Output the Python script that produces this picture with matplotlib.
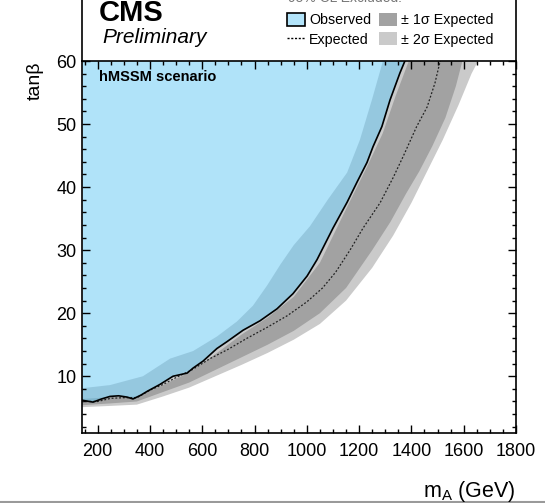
import numpy as np
import matplotlib
matplotlib.use('Agg')
import matplotlib.pyplot as plt
from matplotlib.patches import Patch
from matplotlib.lines import Line2D
from matplotlib.ticker import MultipleLocator

plt.rcParams['font.family'] = ['Liberation Sans', 'DejaVu Sans']
plt.rcParams['mathtext.fontset'] = 'custom'
plt.rcParams['mathtext.rm'] = 'Liberation Sans'
plt.rcParams['mathtext.it'] = 'Liberation Sans:italic'
plt.rcParams['mathtext.bf'] = 'Liberation Sans:bold'

# observed exclusion contour (mA [GeV], tan beta)
obs_mA = [140, 182, 215, 247, 280, 312, 335, 365, 389, 438, 488, 542, 565, 603,
          656, 695, 756, 821, 886, 947, 1001, 1039, 1100, 1154, 1192, 1230, 1253,
          1287, 1318, 1356, 1375, 1385]
obs_tb = [6.2, 5.9, 6.4, 6.8, 6.9, 6.7, 6.4, 7.0, 7.6, 8.7, 10.0, 10.5, 11.3, 12.4,
          14.4, 15.5, 17.3, 18.8, 20.7, 23.1, 25.9, 28.5, 33.5, 37.6, 40.8, 43.9, 46.4,
          49.6, 53.8, 58.1, 60.0, 61.0]

# median expected
exp_mA = [140, 200, 250, 300, 350, 400, 450, 500, 560, 630, 700, 770, 850, 925,
          1000, 1060, 1110, 1165, 1215, 1280, 1330, 1370, 1420, 1460, 1490, 1510, 1520]
exp_tb = [6.0, 6.0, 6.5, 6.6, 6.6, 7.8, 8.7, 9.8, 11.0, 12.8, 14.3, 16.0, 17.8, 19.6,
          21.8, 24.0, 26.5, 30.0, 33.5, 37.5, 41.5, 45.0, 49.6, 52.7, 56.5, 60.0, 61.0]

# +-1 sigma expected band edges
s1_hi_mA = [140, 250, 350, 450, 550, 650, 750, 850, 950, 1050, 1150, 1230, 1290, 1340, 1390, 1400]
s1_hi_tb = [6.4, 6.7, 6.8, 8.6, 10.6, 13.5, 16.6, 19.3, 22.6, 28.0, 36.5, 43.2, 48.5, 54.5, 60.0, 61.0]
s1_lo_mA = [140, 250, 350, 450, 550, 650, 750, 850, 950, 1050, 1150, 1250, 1320, 1380,
            1430, 1480, 1530, 1570, 1595, 1600]
s1_lo_tb = [5.4, 5.7, 6.0, 7.5, 9.0, 11.0, 13.0, 15.0, 17.2, 20.0, 24.0, 30.0, 34.5, 39.0,
            42.5, 46.5, 51.0, 56.0, 60.0, 61.0]

# +-2 sigma expected band edges
s2_hi_mA = [140, 247, 373, 477, 565, 656, 733, 794, 848, 900, 950, 1012, 1080, 1154,
            1203, 1250, 1291, 1300]
s2_hi_tb = [8.1, 8.6, 10.0, 12.8, 14.0, 16.3, 18.7, 21.2, 24.4, 27.8, 30.8, 33.8, 38.0, 42.3,
            47.5, 54.0, 60.0, 61.0]
s2_lo_mA = [140, 250, 350, 450, 550, 650, 750, 850, 950, 1050, 1150, 1250, 1330, 1400,
            1460, 1520, 1580, 1630, 1655, 1665]
s2_lo_tb = [5.1, 5.3, 5.5, 6.8, 8.2, 10.0, 11.8, 13.7, 15.8, 18.3, 22.0, 27.2, 32.3, 37.5,
            42.5, 47.5, 53.0, 58.0, 60.0, 61.0]

fig = plt.figure(figsize=(5.45, 5.03), dpi=100)
ax = fig.add_axes([82/545, 1-433/503, (516-82)/545, (433-61)/503])

c_s2 = '#cacaca'
c_s1 = '#a2a2a2'
c_obs = '#62c8f5'

ax.fill(np.r_[s2_hi_mA, s2_lo_mA[::-1]], np.r_[s2_hi_tb, s2_lo_tb[::-1]],
        color=c_s2, lw=0)
ax.fill(np.r_[s1_hi_mA, s1_lo_mA[::-1]], np.r_[s1_hi_tb, s1_lo_tb[::-1]],
        color=c_s1, lw=0)
ax.plot(exp_mA, exp_tb, color='#222222', lw=0.9, ls=(0, (1.5, 1.5)))
ax.fill_between(obs_mA, obs_tb, 61, color=c_obs, alpha=0.5, lw=0)
ax.plot(obs_mA, obs_tb, color='black', lw=1.2)

ax.set_xlim(140, 1800)
ax.set_ylim(1, 60)
ax.xaxis.set_major_locator(MultipleLocator(200))
ax.xaxis.set_minor_locator(MultipleLocator(50))
ax.yaxis.set_major_locator(MultipleLocator(10))
ax.yaxis.set_minor_locator(MultipleLocator(2))
ax.tick_params(which='both', direction='in', top=True, right=True, width=1.0,
               labelsize=13)
ax.tick_params(which='major', length=6)
ax.tick_params(which='minor', length=3)
ax.tick_params(axis='x', pad=7)
ax.tick_params(axis='y', pad=4)
for s in ax.spines.values():
    s.set_linewidth(1.2)

ax.text(0.04, 0.975, 'hMSSM scenario', transform=ax.transAxes, fontsize=10.5,
        fontweight='bold', va='top', ha='left')

fig.text(35/545, 1-62/503, 'tan\u03b2', rotation=90, fontsize=14, ha='center', va='top')
fig.text(516/545, 1-497/503, r'm$_\mathrm{A}$ (GeV)', fontsize=15.5, ha='right', va='baseline')

# header box above the frame
fig.add_artist(Line2D([82/545, 82/545], [1-61/503, 1.0], color='black', lw=1.2))
fig.add_artist(Line2D([516/545, 516/545], [1-61/503, 1.0], color='black', lw=1.2))
fig.text(99/545, 1-21/503, 'CMS', fontsize=21, fontweight='bold', va='baseline')
fig.text(102/545, 1-43/503, 'Preliminary', fontsize=15, style='italic', va='baseline')
fig.text(288/545, 1-1.5/503, '95% CL Excluded:', fontsize=10, color='#777777', va='baseline')

handles = [Patch(facecolor='#b3e4fa', edgecolor='black', lw=1.2),
           Line2D([], [], color='black', lw=1, ls=(0, (1.5, 1.2))),
           Patch(facecolor=c_s1, edgecolor='none'),
           Patch(facecolor=c_s2, edgecolor='none')]
labels = ['Observed', 'Expected', '\u00b1 1\u03c3 Expected', '\u00b1 2\u03c3 Expected']
fig.legend(handles, labels, ncol=2, loc='upper left', bbox_to_anchor=(287/545, 1-13/503),
           frameon=False, fontsize=10.3, handlelength=1.25, handleheight=1.0,
           handletextpad=0.3, columnspacing=0.55, labelspacing=0.35, borderpad=0,
           borderaxespad=0)

fig.add_artist(Line2D([0, 1], [1.5/503, 1.5/503], color='#9a9a9a', lw=1.5))

fig.savefig('out.png', dpi=100)
